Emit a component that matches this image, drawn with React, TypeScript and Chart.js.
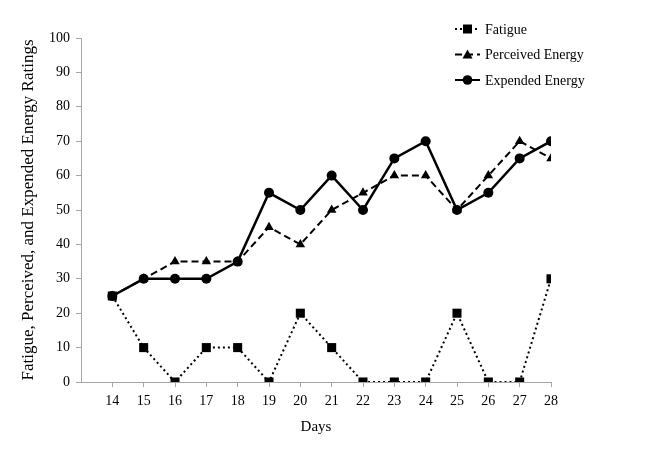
import React, { useEffect, useRef } from "react";
import { Chart, registerables } from "chart.js";

Chart.register(...registerables);

const days = [14, 15, 16, 17, 18, 19, 20, 21, 22, 23, 24, 25, 26, 27, 28];
const fatigue = [25, 10, 0, 10, 10, 0, 20, 10, 0, 0, 0, 20, 0, 0, 30];
const perceivedEnergy = [25, 30, 35, 35, 35, 45, 40, 50, 55, 60, 60, 50, 60, 70, 65];
const expendedEnergy = [25, 30, 30, 30, 35, 55, 50, 60, 50, 65, 70, 50, 55, 65, 70];
const yTicks = [0, 10, 20, 30, 40, 50, 60, 70, 80, 90, 100];

const FONT = "'Liberation Serif', 'Times New Roman', serif";

const legendItems = [
  { label: "Fatigue", dash: [2, 3], marker: "rect" },
  { label: "Perceived Energy", dash: [7, 4], marker: "triangle" },
  { label: "Expended Energy", dash: [], marker: "circle" },
];

function drawMarker(ctx: CanvasRenderingContext2D, kind: string, x: number, y: number) {
  ctx.beginPath();
  if (kind === "rect") {
    ctx.rect(x - 4.5, y - 4.5, 9, 9);
  } else if (kind === "triangle") {
    ctx.moveTo(x, y - 5);
    ctx.lineTo(x + 5, y + 4);
    ctx.lineTo(x - 5, y + 4);
    ctx.closePath();
  } else {
    ctx.arc(x, y, 4.8, 0, Math.PI * 2);
  }
  ctx.fill();
}

const legendPlugin = {
  id: "customLegend",
  afterDraw(chart: any) {
    const ctx = chart.ctx as CanvasRenderingContext2D;
    ctx.save();
    legendItems.forEach((it, i) => {
      const y = 29 + i * 25.5;
      ctx.strokeStyle = "#000";
      ctx.fillStyle = "#000";
      ctx.lineWidth = 2;
      ctx.setLineDash(it.dash);
      ctx.beginPath();
      ctx.moveTo(455, y);
      ctx.lineTo(480, y);
      ctx.stroke();
      ctx.setLineDash([]);
      drawMarker(ctx, it.marker, 467.5, y);
      ctx.font = `14px ${FONT}`;
      ctx.textBaseline = "middle";
      ctx.textAlign = "left";
      ctx.fillText(it.label, 485, y + 1);
    });
    ctx.restore();
  },
};

export default function App() {
  const ref = useRef<HTMLCanvasElement | null>(null);
  useEffect(() => {
    if (!ref.current) return;
    const pts = (arr: number[]) => days.map((d, i) => ({ x: d, y: arr[i] }));
    const chart = new Chart(ref.current, {
      type: "line",
      data: {
        datasets: [
          {
            label: "Fatigue",
            data: pts(fatigue),
            borderColor: "#000",
            backgroundColor: "#000",
            borderWidth: 2,
            borderDash: [2, 3],
            pointStyle: "rect",
            pointRadius: 6.4,
            pointBorderWidth: 0,
          },
          {
            label: "Perceived Energy",
            data: pts(perceivedEnergy),
            borderColor: "#000",
            backgroundColor: "#000",
            borderWidth: 2,
            borderDash: [7, 4],
            pointStyle: "triangle",
            pointRadius: 5.5,
            pointBorderWidth: 0,
          },
          {
            label: "Expended Energy",
            data: pts(expendedEnergy),
            borderColor: "#000",
            backgroundColor: "#000",
            borderWidth: 2.5,
            pointStyle: "circle",
            pointRadius: 5,
            pointBorderWidth: 0,
          },
        ],
      },
      options: {
        animation: false,
        responsive: false,
        maintainAspectRatio: false,
        layout: { padding: { top: 38, right: 95, left: 0, bottom: 14 } },
        plugins: { legend: { display: false }, tooltip: { enabled: false } },
        scales: {
          x: {
            type: "linear",
            min: 13,
            max: 28,
            afterBuildTicks: (scale: any) => {
              scale.ticks = days.map((d) => ({ value: d }));
            },
            ticks: {
              color: "#000",
              font: { family: FONT, size: 14 },
              padding: 6,
              maxRotation: 0,
              autoSkip: false,
            },
            grid: {
              display: true,
              drawOnChartArea: false,
              drawTicks: true,
              tickLength: 5,
              color: "#a6a6a6",
            },
            border: { color: "#a6a6a6", width: 1 },
            title: {
              display: true,
              text: "Days",
              color: "#000",
              font: { family: FONT, size: 15 },
              padding: { top: 4, bottom: 0 },
            },
            afterFit: (scale: any) => {
              scale.height = 54;
            },
          },
          y: {
            min: 0,
            max: 100,
            afterBuildTicks: (scale: any) => {
              scale.ticks = yTicks.map((v) => ({ value: v }));
            },
            ticks: {
              color: "#000",
              font: { family: FONT, size: 14 },
              padding: 6,
            },
            grid: {
              display: true,
              drawOnChartArea: false,
              drawTicks: true,
              tickLength: 5,
              color: "#a6a6a6",
            },
            border: { color: "#a6a6a6", width: 1 },
            title: {
              display: true,
              text: "Fatigue, Perceived, and Expended Energy Ratings",
              color: "#000",
              font: { family: FONT, size: 17 },
              padding: { top: 18, bottom: 0 },
            },
            afterFit: (scale: any) => {
              scale.width = 81;
            },
          },
        },
      },
      plugins: [legendPlugin],
    } as any);
    return () => chart.destroy();
  }, []);
  return (
    <div style={{ position: "fixed", left: 0, top: 0, width: 646, height: 450, background: "#fff" }}>
      <canvas ref={ref} width={646} height={450} style={{ width: 646, height: 450 }} />
    </div>
  );
}
